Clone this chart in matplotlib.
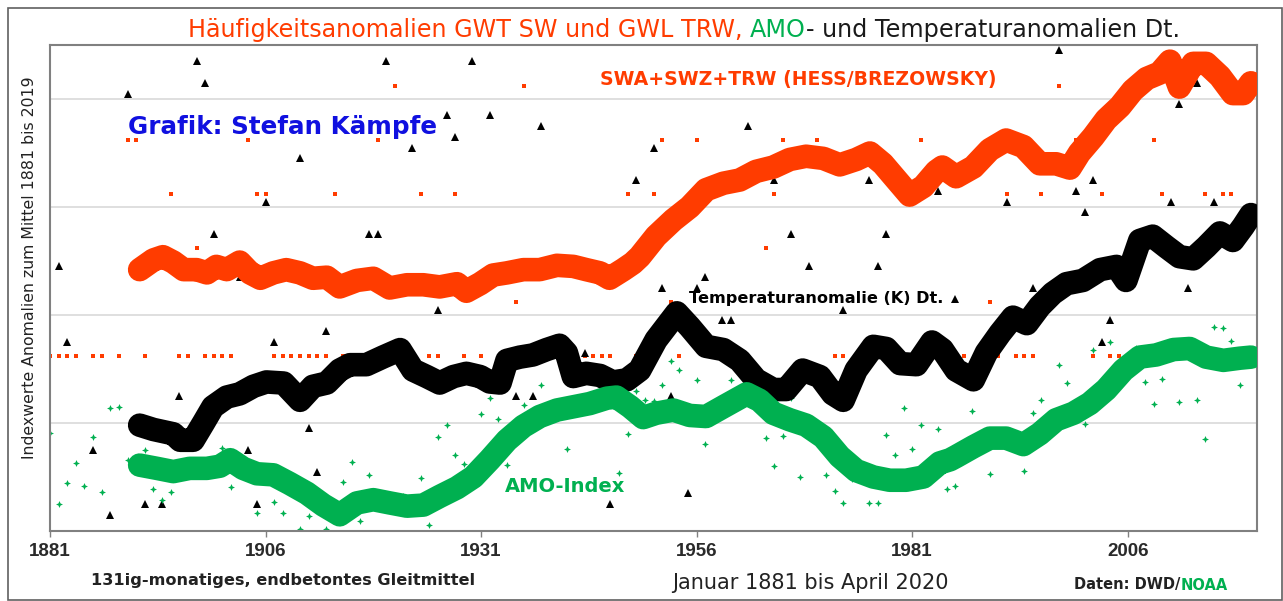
import matplotlib.pyplot as plt
from matplotlib.patches import Rectangle
from matplotlib.path import Path

plt.rcParams['font.family'] = ['Liberation Sans', 'DejaVu Sans']

RED = '#FF3C00'
GREEN = '#00B050'

# 131-month smoothed series (index units, gridlines every 10)
red_years = [1891.4, 1893.0, 1894.1, 1895.3, 1896.5, 1898.0, 1899.2, 1900.3, 1901.5, 1903.0,
             1904.2, 1905.4, 1906.9, 1908.4, 1910.0, 1911.5, 1913.1, 1914.6, 1916.6, 1918.5,
             1920.4, 1922.4, 1924.3, 1926.2, 1928.2, 1929.3, 1930.9, 1932.4, 1934.0, 1935.9,
             1937.8, 1939.8, 1941.7, 1943.2, 1944.8, 1945.9, 1947.5, 1948.6, 1949.4, 1951.3,
             1953.3, 1955.2, 1957.1, 1959.1, 1961.0, 1962.9, 1964.9, 1966.8, 1968.7, 1970.7,
             1972.6, 1974.5, 1976.1, 1977.6, 1979.2, 1980.7, 1982.3, 1983.8, 1984.5, 1986.1,
             1988.1, 1990.0, 1991.9, 1993.9, 1995.8, 1997.7, 1999.3, 2000.4, 2002.0, 2003.5,
             2005.1, 2006.6, 2008.2, 2009.7, 2010.9, 2012.0, 2013.6, 2015.1, 2016.7, 2018.2,
             2019.4, 2020.3]
red_vals = [24.2, 25.1, 25.4, 24.9, 24.2, 24.2, 23.9, 24.5, 24.2, 24.9,
            23.9, 23.4, 23.9, 24.2, 23.9, 23.4, 23.5, 22.6, 23.2, 23.4,
            22.5, 22.8, 22.8, 22.6, 22.9, 22.2, 22.9, 23.7, 23.9, 24.2,
            24.2, 24.6, 24.5, 24.2, 23.9, 23.4, 24.2, 24.8, 25.4, 27.3,
            28.8, 30.0, 31.6, 32.2, 32.5, 33.3, 33.7, 34.4, 34.7, 34.5,
            33.9, 34.4, 35.0, 34.0, 32.5, 31.1, 31.9, 33.3, 33.7, 32.8,
            33.7, 35.3, 36.2, 35.6, 34.0, 34.0, 33.6, 35.0, 36.5, 38.1,
            39.3, 40.8, 41.9, 42.4, 43.5, 41.1, 43.3, 43.3, 42.1, 40.5,
            40.5, 41.5]

temp_years = [1891.4, 1893.0, 1895.3, 1896.1, 1897.6, 1898.8, 1899.9, 1901.5, 1903.0, 1904.6,
              1906.1, 1908.1, 1910.0, 1911.5, 1913.1, 1914.6, 1915.8, 1917.7, 1919.6, 1921.6,
              1923.1, 1924.7, 1926.2, 1927.8, 1929.3, 1930.9, 1932.0, 1933.2, 1934.0, 1935.5,
              1937.0, 1938.6, 1940.1, 1940.9, 1941.7, 1943.2, 1944.8, 1946.3, 1947.9, 1949.4,
              1951.3, 1953.7, 1955.2, 1957.1, 1959.1, 1961.0, 1962.9, 1964.9, 1966.4, 1968.3,
              1970.3, 1971.8, 1973.0, 1974.5, 1976.5, 1978.0, 1979.6, 1981.5, 1983.3, 1984.5,
              1986.1, 1988.1, 1989.6, 1991.2, 1992.7, 1994.3, 1995.8, 1997.3, 1998.9, 2000.8,
              2002.8, 2004.7, 2005.8, 2007.4, 2008.9, 2010.5, 2012.0, 2013.6, 2015.1, 2016.7,
              2018.2, 2019.4, 2020.3]
temp_vals = [9.8, 9.4, 9.0, 8.4, 8.4, 10.0, 11.5, 12.4, 12.7, 13.4,
             13.8, 13.7, 12.1, 13.4, 13.7, 14.9, 15.4, 15.4, 16.1, 16.8,
             14.9, 14.3, 13.7, 14.3, 14.6, 14.3, 13.8, 13.7, 15.8, 16.1,
             16.3, 16.8, 17.2, 16.5, 14.3, 14.6, 14.4, 13.8, 14.0, 14.9,
             17.7, 20.2, 18.9, 17.1, 16.8, 15.8, 14.0, 13.1, 13.1, 14.9,
             14.3, 12.7, 12.1, 14.9, 17.1, 16.9, 15.5, 15.4, 17.5, 16.8,
             14.9, 14.0, 16.5, 18.3, 19.8, 19.2, 20.8, 22.0, 22.9, 23.2,
             24.2, 24.5, 23.2, 26.9, 27.3, 26.3, 25.4, 25.2, 26.3, 27.6,
             26.9, 28.2, 29.3]

amo_years = [1891.4, 1893.4, 1895.3, 1897.2, 1899.2, 1900.7, 1901.9, 1903.4, 1905.0, 1906.9,
             1908.8, 1910.8, 1912.7, 1914.6, 1916.6, 1918.5, 1920.4, 1922.4, 1924.3, 1926.2,
             1928.2, 1930.1, 1932.0, 1934.0, 1935.9, 1937.8, 1939.8, 1941.7, 1943.6, 1945.6,
             1946.7, 1948.3, 1949.8, 1951.3, 1953.3, 1955.2, 1957.1, 1959.1, 1961.8, 1963.3,
             1964.9, 1966.8, 1968.7, 1970.7, 1972.6, 1974.5, 1976.5, 1978.4, 1980.3, 1982.3,
             1984.2, 1985.4, 1986.1, 1988.1, 1990.0, 1991.9, 1993.9, 1995.8, 1997.7, 1999.7,
             2001.6, 2003.5, 2005.5, 2007.4, 2009.3, 2011.3, 2013.2, 2015.1, 2017.1, 2019.0,
             2020.3]
amo_vals = [6.1, 5.8, 5.5, 5.8, 5.8, 6.0, 6.6, 5.8, 5.3, 5.2,
            4.4, 3.5, 2.4, 1.5, 2.6, 2.9, 2.6, 2.3, 2.4, 3.2,
            4.0, 5.0, 6.6, 8.4, 9.7, 10.6, 11.2, 11.5, 11.8, 12.3,
            12.4, 11.5, 10.5, 10.9, 11.2, 10.7, 10.6, 11.5, 12.7, 12.1,
            10.9, 10.3, 9.8, 8.7, 6.9, 5.6, 5.0, 4.7, 4.7, 5.0,
            6.3, 6.6, 6.9, 7.8, 8.6, 8.6, 8.0, 9.0, 10.3, 10.9,
            11.8, 13.1, 14.9, 16.1, 16.3, 16.8, 16.9, 16.1, 15.8, 16.0,
            16.1]

# yearly values
freq_years = [1881, 1882, 1883, 1884, 1886, 1887, 1889, 1890, 1891, 1892,
              1895, 1896, 1897, 1898, 1899, 1900, 1901, 1902, 1904, 1905,
              1906, 1907, 1908, 1909, 1910, 1911, 1912, 1913, 1914, 1915,
              1916, 1917, 1919, 1921, 1924, 1925, 1926, 1928, 1929, 1931,
              1935, 1936, 1942, 1943, 1944, 1945, 1946, 1948, 1949, 1951,
              1952, 1953, 1954, 1956, 1964, 1965, 1966, 1970, 1972, 1973,
              1982, 1987, 1990, 1991, 1992, 1993, 1994, 1995, 1996, 1998,
              2000, 2002, 2003, 2004, 2005, 2006, 2009, 2010, 2015, 2017,
              2018]
freq_vals = [16.2, 16.2, 16.2, 16.2, 16.2, 16.2, 16.2, 36.2, 36.2, 16.2,
             31.2, 16.2, 16.2, 26.2, 16.2, 16.2, 16.2, 16.2, 36.2, 31.2,
             31.2, 16.2, 16.2, 16.2, 16.2, 16.2, 16.2, 16.2, 31.2, 16.2,
             16.2, 16.2, 36.2, 41.2, 31.2, 16.2, 16.2, 31.2, 16.2, 16.2,
             21.2, 41.2, 16.2, 16.2, 16.2, 16.2, 16.2, 31.2, 16.2, 31.2,
             36.2, 21.2, 16.2, 36.2, 26.2, 31.2, 36.2, 36.2, 16.2, 16.2,
             36.2, 16.2, 21.2, 16.2, 31.2, 16.2, 16.2, 16.2, 31.2, 41.2,
             36.2, 16.2, 31.2, 16.2, 16.2, 16.2, 36.2, 31.2, 31.2, 31.2,
             31.2]

t_years = [1882, 1883, 1886, 1888, 1890, 1892, 1894, 1896, 1898, 1899,
           1900, 1903, 1904, 1905, 1906, 1907, 1910, 1911, 1912, 1913,
           1918, 1919, 1920, 1923, 1926, 1927, 1928, 1930, 1932, 1934,
           1935, 1937, 1938, 1943, 1946, 1949, 1951, 1952, 1953, 1955,
           1956, 1957, 1959, 1960, 1962, 1965, 1967, 1969, 1973, 1976,
           1977, 1978, 1984, 1986, 1992, 1995, 1998, 2000, 2001, 2002,
           2003, 2004, 2005, 2011, 2012, 2013, 2014, 2016]
t_vals = [24.5, 17.5, 7.5, 1.5, 40.5, 2.5, 2.5, 12.5, 43.5, 41.5,
          27.5, 23.5, 7.5, 2.5, 30.5, 17.5, 34.5, 9.5, 5.5, 18.5,
          27.5, 27.5, 43.5, 35.5, 20.5, 38.5, 36.5, 43.5, 38.5, 24.5,
          12.5, 12.5, 37.5, 16.5, 2.5, 32.5, 35.5, 22.5, 12.5, 3.5,
          22.5, 23.5, 19.5, 19.5, 37.5, 32.5, 27.5, 24.5, 20.5, 32.5,
          24.5, 27.5, 31.5, 21.5, 30.5, 22.5, 44.5, 31.5, 29.5, 32.5,
          17.5, 19.5, 40.5, 30.5, 39.5, 22.5, 41.5, 30.5]

amo_pt_years = [1881, 1882, 1883, 1884, 1885, 1886, 1887, 1888, 1889, 1890,
                1892, 1893, 1894, 1895, 1901, 1902, 1905, 1907, 1908, 1910,
                1911, 1913, 1915, 1916, 1917, 1918, 1922, 1924, 1925, 1926,
                1927, 1928, 1929, 1930, 1931, 1932, 1933, 1934, 1936, 1938,
                1939, 1941, 1942, 1947, 1948, 1949, 1950, 1951, 1952, 1953,
                1954, 1956, 1957, 1960, 1964, 1965, 1966, 1967, 1968, 1971,
                1972, 1973, 1974, 1976, 1977, 1978, 1979, 1980, 1981, 1982,
                1984, 1985, 1986, 1988, 1990, 1994, 1995, 1996, 1998, 1999,
                2001, 2002, 2003, 2004, 2007, 2008, 2009, 2010, 2012, 2014,
                2015, 2016, 2017, 2018, 2019]
amo_pt_vals = [9.1, 2.5, 4.4, 6.3, 4.2, 8.7, 3.6, 11.4, 11.5, 6.6,
               7.5, 3.9, 2.9, 3.6, 7.7, 4.1, 1.7, 2.7, 1.7, 0.2,
               1.4, 0.2, 4.5, 6.4, 0.9, 5.2, 3.2, 4.9, 0.6, 8.7,
               9.8, 7.0, 6.2, 5.4, 10.8, 12.3, 10.4, 6.1, 11.7, 13.5,
               11.8, 7.6, 12.1, 5.4, 9.0, 13.0, 12.1, 12.0, 13.5, 15.7,
               14.9, 14.0, 8.1, 14.0, 8.6, 6.0, 8.8, 12.3, 5.0, 5.2,
               3.7, 2.6, 4.8, 2.6, 2.6, 8.9, 7.0, 11.4, 7.6, 9.8,
               9.4, 3.9, 4.2, 11.1, 5.3, 5.6, 10.9, 12.1, 15.4, 13.7,
               9.9, 16.8, 14.0, 17.5, 16.9, 13.8, 11.8, 14.1, 11.9, 12.1,
               8.5, 18.9, 18.8, 17.6, 13.5]

xtick_years = [1881, 1906, 1931, 1956, 1981, 2006]

W, H = 1283, 601
fig = plt.figure(figsize=(W / 100, H / 100), dpi=100)
ax = fig.add_axes([50 / W, 1 - 531 / H, 1207 / W, 486 / H])


def fx(px):
    return px / W


def fy(py):
    return 1 - py / H


star = Path([(0, 1), (0.3, 0.3), (1, 0), (0.3, -0.3), (0, -1), (-0.3, -0.3), (-1, 0), (-0.3, 0.3), (0, 1)])

ax.plot(freq_years, freq_vals, 's', color=RED, markersize=2.4, markeredgewidth=0, zorder=2)
ax.plot(t_years, t_vals, '^', color='black', markersize=6, markeredgewidth=0, zorder=2)
ax.plot(amo_pt_years, amo_pt_vals, marker=star, linestyle='none', color=GREEN,
        markersize=5, markeredgewidth=0, zorder=2)

line_kw = dict(lw=17, solid_capstyle='round', solid_joinstyle='round')
ax.plot(temp_years, temp_vals, color='black', zorder=3, **line_kw)
ax.plot(red_years, red_vals, color=RED, zorder=3, **line_kw)
ax.plot(amo_years, amo_vals, color=GREEN, zorder=4, **line_kw)

ax.set_xlim(1881, 2021)
ax.set_ylim(0, 45)
ax.set_xticks(xtick_years)
ax.set_xticklabels([str(y) for y in xtick_years], fontsize=13.5, fontweight='bold', color='#2a2a2a')
ax.set_yticks([10, 20, 30, 40])
ax.tick_params(axis='y', length=0, labelleft=False)
ax.tick_params(axis='x', length=4, width=1, color='#808080', pad=5)
ax.grid(axis='y', color='#D9D9D9', lw=1.2)
ax.set_axisbelow(True)
for s in ax.spines.values():
    s.set_color('#808080')
    s.set_linewidth(1.5)

# frame around the whole picture
fig.patches.append(Rectangle((fx(8), fy(600)), fx(1274), 592 / H, transform=fig.transFigure,
                             fill=False, edgecolor='#606060', lw=1.2))

renderer = fig.canvas.get_renderer()
TXT = dict(family=['DejaVu Sans'])


def text_width(s, **kw):
    t = fig.text(0, 0, s, **kw)
    w = t.get_window_extent(renderer).width
    t.remove()
    return w


def colored_text(xc, y, parts, **kw):
    # parts: (text, colour, gap before it in spaces)
    sp = text_width('a a', **kw) - text_width('aa', **kw)
    widths = [text_width(s, **kw) for s, c, g in parts]
    x = xc - (sum(widths) + sp * sum(g for s, c, g in parts)) / 2
    for (s, c, g), w in zip(parts, widths):
        x += g * sp
        fig.text(fx(x), fy(y), s, color=c, ha='left', va='center', **kw)
        x += w


colored_text(684, 30, [('Häufigkeitsanomalien GWT SW und GWL TRW,', RED, 0),
                       ('AMO', GREEN, 1),
                       ('- und Temperaturanomalien Dt.', '#1a1a1a', 0)], fontsize=17.2, **TXT)

fig.text(fx(798), fy(80), 'SWA+SWZ+TRW (HESS/BREZOWSKY)', color=RED, fontsize=13.6,
         fontweight='bold', ha='center', va='center', **TXT)
fig.text(fx(283), fy(127), 'Grafik: Stefan Kämpfe', color='#1010E0', fontsize=17.7,
         fontweight='bold', ha='center', va='center', **TXT)
fig.text(fx(816), fy(298), 'Temperaturanomalie (K) Dt.', color='black', fontsize=11.6,
         fontweight='bold', ha='center', va='center', zorder=5, **TXT)
fig.text(fx(565), fy(487), 'AMO-Index', color=GREEN, fontsize=14,
         fontweight='bold', ha='center', va='center', **TXT)
fig.text(fx(283), fy(580), '131ig-monatiges, endbetontes Gleitmittel', color='#222222',
         fontsize=11.6, fontweight='bold', ha='center', va='center', **TXT)
fig.text(fx(810), fy(583), 'Januar 1881 bis April 2020', color='#222222', fontsize=15,
         ha='center', va='center', **TXT)
colored_text(1151, 585, [('Daten: DWD/', '#222222', 0), ('NOAA', GREEN, 0)],
             fontsize=10.5, fontweight='bold', **TXT)
fig.text(fx(30), fy(268), 'Indexwerte Anomalien zum Mittel 1881 bis 2019', color='#222222',
         fontsize=11.3, rotation=90, ha='center', va='center', **TXT)

fig.savefig('out.png', dpi=100)
